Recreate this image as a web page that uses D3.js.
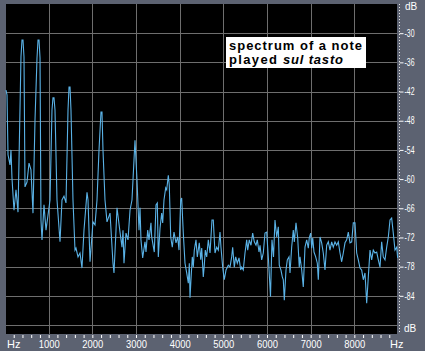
<!DOCTYPE html>
<html>
<head>
<meta charset="utf-8">
<script src="https://cdn.jsdelivr.net/npm/d3@7"></script>
<style>
  body { margin: 0; background: #5c6271; }
  svg { display: block; }
  text { font-family: "Liberation Sans", Arial, sans-serif; }
</style>
</head>
<body>
<div id="chart"></div>
<script>
// spectrum: frequency (Hz) and level (dB)
var freqs = [23, 46, 69, 115, 137, 160, 206, 252, 298, 321, 366, 389, 412, 435, 458, 504, 550, 595, 641, 687,
  733, 756, 779, 802, 824, 847, 893, 939, 985, 1031, 1076, 1099, 1122, 1145, 1191, 1260, 1305, 1351, 1397, 1443,
  1466, 1489, 1511, 1557, 1603, 1626, 1672, 1718, 1763, 1809, 1878, 1901, 1947, 2015, 2061, 2107, 2153, 2198, 2221, 2244,
  2290, 2336, 2405, 2473, 2496, 2542, 2565, 2634, 2679, 2702, 2725, 2771, 2817, 2863, 2908, 2954, 2977, 3023, 3069, 3092,
  3114, 3153, 3206, 3229, 3268, 3298, 3343, 3359, 3419, 3458, 3488, 3511, 3550, 3588, 3611, 3641, 3680, 3703, 3740, 3762,
  3795, 3831, 3870, 3916, 3955, 3985, 4024, 4046, 4083, 4122, 4161, 4198, 4221, 4237, 4259, 4289, 4312, 4335, 4374, 4404,
  4449, 4482, 4505, 4541, 4564, 4587, 4619, 4656, 4695, 4740, 4770, 4809, 4848, 4885, 4924, 4946, 4985, 5022, 5061, 5114,
  5153, 5191, 5214, 5251, 5283, 5320, 5359, 5398, 5420, 5457, 5496, 5535, 5558, 5594, 5633, 5672, 5709, 5748, 5778, 5817,
  5840, 5878, 5915, 5954, 5993, 6034, 6080, 6114, 6149, 6183, 6222, 6259, 6281, 6320, 6350, 6373, 6396, 6435, 6465, 6504,
  6527, 6565, 6602, 6625, 6664, 6703, 6739, 6756, 6795, 6831, 6870, 6909, 6946, 6968, 7000, 7024, 7047, 7076, 7115, 7152,
  7175, 7214, 7252, 7289, 7328, 7367, 7404, 7443, 7481, 7518, 7557, 7596, 7633, 7672, 7710, 7747, 7786, 7825, 7862, 7901,
  7940, 7976, 8015, 8054, 8091, 8130, 8168, 8205, 8244, 8283, 8320, 8359, 8397, 8434, 8473, 8512, 8549, 8588, 8626, 8663,
  8702, 8741, 8778, 8817, 8855, 8892, 8931, 8970, 8993];

var levels = [-41.7, -42.7, -55.0, -57.1, -54.0, -59.8, -66.4, -62.2, -66.8, -56.1, -34.9, -31.4, -31.4, -34.9, -61.6, -60.6, -56.7, -58.1, -67.0, -47.9,
  -35.1, -31.4, -31.4, -35.1, -68.4, -72.5, -65.3, -70.5, -67.4, -64.3, -45.8, -43.3, -43.3, -45.8, -64.3, -72.9, -64.3, -63.5, -64.9, -45.8,
  -41.1, -41.1, -45.8, -64.3, -74.6, -74.2, -76.0, -75.2, -78.3, -70.5, -62.7, -64.3, -77.0, -68.8, -69.4, -64.3, -54.0, -46.2, -46.2, -54.0,
  -64.3, -68.8, -67.0, -77.3, -79.3, -70.5, -65.9, -70.9, -74.0, -70.5, -77.3, -71.1, -72.5, -66.4, -64.3, -56.1, -52.0, -60.2, -70.5, -65.9,
  -72.5, -76.2, -72.9, -75.0, -70.5, -72.5, -69.0, -71.9, -75.0, -65.3, -64.9, -76.0, -70.1, -67.0, -69.0, -64.3, -61.8, -62.2, -59.2, -61.2,
  -71.9, -74.0, -70.9, -73.1, -71.9, -74.6, -64.3, -63.9, -71.1, -77.3, -79.3, -81.4, -77.3, -84.4, -80.7, -76.0, -78.1, -74.6, -72.5, -76.0,
  -73.1, -76.6, -74.2, -80.1, -77.7, -74.6, -76.0, -72.5, -75.2, -68.4, -68.4, -75.2, -74.0, -74.6, -70.9, -74.0, -78.1, -80.7, -78.7, -77.7,
  -78.1, -76.0, -74.0, -78.1, -76.0, -77.3, -76.2, -78.7, -78.1, -78.7, -75.2, -72.5, -74.6, -72.5, -73.6, -71.1, -72.9, -73.6, -72.5, -75.0,
  -73.6, -76.6, -75.2, -71.1, -70.9, -76.6, -84.2, -72.5, -76.0, -68.4, -71.9, -69.8, -77.7, -78.7, -80.1, -80.7, -84.9, -78.7, -76.6, -76.0,
  -79.3, -74.0, -70.5, -72.9, -69.0, -72.1, -78.1, -76.0, -78.7, -82.2, -74.0, -72.5, -74.2, -72.1, -71.1, -74.2, -72.1, -75.0, -76.0, -77.3,
  -80.7, -71.9, -73.1, -75.2, -78.7, -73.6, -72.9, -74.6, -72.9, -74.0, -72.9, -73.6, -72.9, -75.2, -77.0, -75.2, -73.1, -72.5, -70.9, -73.1,
  -72.9, -69.0, -69.0, -75.2, -76.6, -78.3, -78.7, -80.7, -79.3, -85.5, -80.1, -74.6, -76.6, -74.6, -75.2, -75.0, -76.6, -78.1, -72.9, -76.0,
  -76.6, -74.0, -71.9, -68.4, -68.0, -71.1, -74.6, -74.0, -76.2];

var dbTicks = [-30, -36, -42, -48, -54, -60, -66, -72, -78, -84];
var hzTicks = [1000, 2000, 3000, 4000, 5000, 6000, 7000, 8000];
var unitY = "dB", unitX = "Hz";
var noteLine1 = "spectrum of a note";
var noteLine2 = ["played", "sul tasto"];

var width = 425, height = 351;
var plot = { left: 6, right: 397, top: 4, bottom: 334 };

var x = d3.scaleLinear().domain([0, 9000]).range([5, 398]);
var y = d3.scaleLinear().domain([-24, -90]).range([4, 325]);

var svg = d3.select("#chart")
  .append("svg")
  .attr("width", width)
  .attr("height", height);

// frame
svg.append("rect")
  .attr("width", width).attr("height", height)
  .attr("fill", "#5c6271");

svg.append("rect")
  .attr("x", plot.left).attr("y", plot.top)
  .attr("width", plot.right - plot.left)
  .attr("height", plot.bottom - plot.top)
  .attr("fill", "#000");

// grid
var grid = svg.append("g").attr("stroke", "#6e6e6e").attr("stroke-width", 1);
grid.selectAll(".hg")
  .data(dbTicks.concat([-90]))
  .enter().append("line")
  .attr("x1", plot.left).attr("x2", plot.right)
  .attr("y1", d => Math.round(y(d)) + 0.5)
  .attr("y2", d => Math.round(y(d)) + 0.5);
grid.selectAll(".vg")
  .data(hzTicks)
  .enter().append("line")
  .attr("y1", plot.top).attr("y2", plot.bottom)
  .attr("x1", d => Math.round(x(d)) + 0.5)
  .attr("x2", d => Math.round(x(d)) + 0.5);

// spectrum line
var points = freqs.map((f, i) => ({ f: f, db: levels[i] }));
var line = d3.line()
  .x(d => x(d.f))
  .y(d => y(d.db));

svg.append("path")
  .datum(points)
  .attr("fill", "none")
  .attr("stroke", "#5ab2e6")
  .attr("stroke-width", 1.1)
  .attr("d", line);

// right axis
var yAxis = svg.append("g")
  .attr("transform", "translate(399.5,0)")
  .call(d3.axisRight(y).tickValues(dbTicks).tickSize(4).tickPadding(1).tickFormat(d => String(d)));
yAxis.select(".domain")
  .attr("d", "M0," + plot.top + "V" + plot.bottom)
  .attr("stroke", "#e8e8e8")
  .attr("stroke-dasharray", "1,2");
yAxis.selectAll(".tick line").attr("stroke", "#fff");
yAxis.selectAll(".tick text")
  .attr("fill", "#fff")
  .style("font-size", "10px")
  .attr("textLength", 10)
  .attr("lengthAdjust", "spacingAndGlyphs");

svg.append("text")
  .attr("x", 405).attr("y", 10)
  .attr("fill", "#fff").style("font-size", "10px")
  .text(unitY);
svg.append("text")
  .attr("x", 404).attr("y", 332)
  .attr("fill", "#fff").style("font-size", "10px")
  .text(unitY);

// bottom axis
var xMinor = svg.append("g")
  .attr("transform", "translate(0,335)")
  .call(d3.axisBottom(x).tickValues(d3.range(200, 9000, 200)).tickSize(3).tickFormat(""));
xMinor.select(".domain").remove();
xMinor.selectAll(".tick line").attr("stroke", "#fff");

var xAxis = svg.append("g")
  .attr("transform", "translate(0,335)")
  .call(d3.axisBottom(x).tickValues(hzTicks).tickSize(0).tickPadding(5).tickFormat(d => String(d)));
xAxis.select(".domain").remove();
xAxis.selectAll(".tick text")
  .attr("fill", "#fff")
  .style("font-size", "11px")
  .attr("textLength", 21)
  .attr("lengthAdjust", "spacingAndGlyphs");

svg.append("text")
  .attr("x", 7).attr("y", 348)
  .attr("fill", "#fff").style("font-size", "11px")
  .text(unitX);
svg.append("text")
  .attr("x", 390).attr("y", 348)
  .attr("fill", "#fff").style("font-size", "11px")
  .text(unitX);

// note box
var note = svg.append("g");
note.append("rect")
  .attr("x", 226).attr("y", 37)
  .attr("width", 140).attr("height", 31)
  .attr("fill", "#fff");
note.append("text")
  .attr("x", 229).attr("y", 50)
  .style("font-size", "13px").style("font-weight", "bold")
  .attr("textLength", 133).attr("lengthAdjust", "spacing")
  .text(noteLine1);
note.append("text")
  .attr("x", 229).attr("y", 64)
  .style("font-size", "13px").style("font-weight", "bold")
  .attr("textLength", 48).attr("lengthAdjust", "spacing")
  .text(noteLine2[0]);
note.append("text")
  .attr("x", 283).attr("y", 64)
  .style("font-size", "13px").style("font-weight", "bold").style("font-style", "italic")
  .attr("textLength", 60).attr("lengthAdjust", "spacing")
  .text(noteLine2[1]);
</script>
</body>
</html>
